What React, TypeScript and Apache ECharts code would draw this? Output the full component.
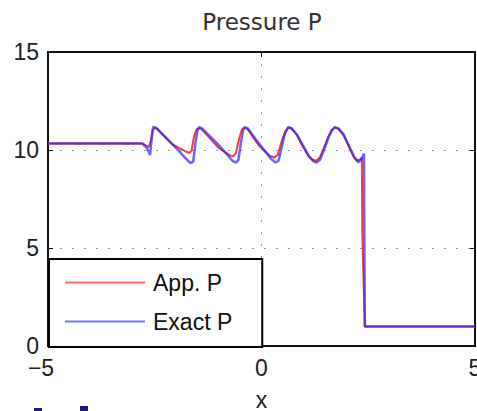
import React, { useEffect, useRef } from 'react';
import * as echarts from 'echarts';

const titleText = 'Pressure P';
const xName = 'x';
const seriesNames = ['App. P', 'Exact P'];
const xTicks = [-5, 0, 5];
const yTicks = [0, 5, 10, 15];

const appX = [-5, -2.78, -2.7, -2.64, -2.59, -2.55, -2.5, -2.44, -2.1, -1.8, -1.7, -1.64, -1.58, -1.52, -1.46, -1.4, -1.0, -0.72, -0.66, -0.6, -0.52, -0.46, -0.4, -0.32, -0.05, 0.2, 0.3, 0.38, 0.48, 0.56, 0.62, 0.7, 0.82, 0.96, 1.1, 1.2, 1.28, 1.36, 1.46, 1.56, 1.64, 1.71, 1.79, 1.91, 2.04, 2.16, 2.24, 2.3, 2.35, 2.36, 2.42, 5];
const appP = [10.33, 10.33, 10.22, 10.15, 10.5, 11.0, 11.12, 11.08, 10.3, 9.95, 9.85, 9.95, 10.7, 11.05, 11.12, 11.05, 10.1, 9.7, 9.68, 9.85, 10.6, 11.05, 11.15, 11.05, 10.2, 9.7, 9.62, 9.75, 10.5, 10.95, 11.15, 11.1, 10.8, 10.2, 9.7, 9.5, 9.45, 9.6, 10.1, 10.65, 11.0, 11.15, 11.1, 10.8, 10.2, 9.65, 9.45, 9.5, 9.6, 5.8, 1.0, 1.0];

const exactX = [-5, -2.8, -2.7, -2.64, -2.61, -2.58, -2.54, -2.48, -2.06, -1.72, -1.66, -1.6, -1.55, -1.5, -1.46, -1.4, -1.0, -0.68, -0.6, -0.54, -0.48, -0.43, -0.39, -0.32, -0.05, 0.22, 0.33, 0.4, 0.47, 0.55, 0.63, 0.71, 0.84, 0.98, 1.12, 1.22, 1.29, 1.37, 1.47, 1.57, 1.65, 1.72, 1.8, 1.92, 2.05, 2.18, 2.27, 2.33, 2.4, 2.42, 5];
const exactP = [10.33, 10.33, 10.15, 9.9, 9.74, 10.4, 11.17, 11.15, 10.25, 9.45, 9.34, 9.4, 10.3, 11.0, 11.17, 11.12, 10.25, 9.45, 9.36, 9.5, 10.4, 11.0, 11.17, 11.1, 10.3, 9.55, 9.36, 9.45, 10.1, 10.85, 11.17, 11.1, 10.75, 10.2, 9.65, 9.42, 9.36, 9.5, 10.05, 10.65, 11.0, 11.17, 11.1, 10.8, 10.2, 9.6, 9.38, 9.5, 9.82, 1.0, 1.0];

const FONT = '"Liberation Sans", Arial, sans-serif';

export default function App() {
  const ref = useRef<HTMLDivElement>(null);
  useEffect(() => {
    const chart = echarts.init(ref.current as HTMLDivElement, null, { renderer: 'svg' });
    const zip = (xs: number[], ys: number[]) => xs.map((x, i) => [x, ys[i]]);
    const tickStyle = { show: true, inside: true, length: 5, lineStyle: { color: '#111', width: 1 } };
    const axisLineStyle = { show: true, lineStyle: { color: '#111', width: 2 } };
    const gridLine = { show: true, lineStyle: { color: '#999', type: [2, 10], width: 1 } };
    chart.setOption({
      animation: false,
      backgroundColor: '#fff',
      grid: { left: 48, right: 2, top: 52, bottom: 65, show: true, borderColor: '#111', borderWidth: 2, containLabel: false, outerBoundsMode: 'none' },
      xAxis: [
        {
          type: 'value', min: xTicks[0], max: xTicks[xTicks.length - 1], interval: xTicks[1] - xTicks[0],
          position: 'bottom', name: xName, nameLocation: 'middle', nameGap: 42,
          nameTextStyle: { fontSize: 23, color: '#222', fontFamily: FONT },
          axisLine: { ...axisLineStyle, onZero: false }, axisTick: tickStyle,
          axisLabel: {
            margin: 10, fontSize: 23, color: '#222', fontFamily: FONT,
            formatter: (v: number) => (v < 0 ? `{neg|\u2212${Math.abs(v)}}` : String(v)),
            rich: { neg: { fontSize: 23, color: '#222', fontFamily: FONT, padding: [0, 14, 0, 0] } },
          },
          splitLine: gridLine,
        },
        {
          type: 'value', min: xTicks[0], max: xTicks[xTicks.length - 1], interval: xTicks[1] - xTicks[0],
          position: 'top', axisLine: { ...axisLineStyle, onZero: false }, axisTick: tickStyle,
          axisLabel: { show: false }, splitLine: { show: false },
        },
      ],
      yAxis: [
        {
          type: 'value', min: yTicks[0], max: yTicks[yTicks.length - 1], interval: yTicks[1] - yTicks[0],
          position: 'left',
          axisLine: { ...axisLineStyle, onZero: false }, axisTick: tickStyle,
          axisLabel: { margin: 9, fontSize: 23, color: '#222', fontFamily: FONT },
          splitLine: gridLine,
        },
        {
          type: 'value', min: yTicks[0], max: yTicks[yTicks.length - 1], interval: yTicks[1] - yTicks[0],
          position: 'right',
          axisLine: { ...axisLineStyle, onZero: false }, axisTick: tickStyle,
          axisLabel: { show: false }, splitLine: { show: false },
        },
      ],
      legend: {
        show: true, orient: 'vertical', left: 49, top: 259,
        padding: [12, 30, 14, 16], itemGap: 16, itemWidth: 80, itemHeight: 2, icon: 'rect',
        borderColor: '#000', borderWidth: 2, backgroundColor: '#fff',
        textStyle: { fontSize: 23, color: '#111', fontFamily: FONT, padding: [0, 0, 0, 3] },
        data: [
          { name: seriesNames[0], itemStyle: { color: '#ff7070' } },
          { name: seriesNames[1], itemStyle: { color: '#7474ff' } },
        ],
      },
      series: [
        {
          name: seriesNames[0], type: 'line', data: zip(appX, appP), symbol: 'none', z: 3,
          itemStyle: { color: '#ff3a3a' }, lineStyle: { color: '#ff3a3a', width: 2 },
        },
        {
          name: seriesNames[1], type: 'line', data: zip(exactX, exactP), symbol: 'none', z: 4,
          itemStyle: { color: '#2a2aff' }, lineStyle: { color: 'rgba(40,40,255,0.7)', width: 2.5 },
        },
      ],
      graphic: [
        {
          type: 'text', x: 262, y: 22,
          style: { text: titleText, fill: '#333', font: '23px "DejaVu Sans", sans-serif', textAlign: 'center', textVerticalAlign: 'middle' },
        },
        { type: 'rect', shape: { x: 34, y: 408, width: 8, height: 3 }, style: { fill: '#1c1c7a' } },
        { type: 'rect', shape: { x: 80, y: 406, width: 8, height: 5 }, style: { fill: '#1c1c7a' } },
      ],
    });
    return () => chart.dispose();
  }, []);
  return <div ref={ref} style={{ position: 'fixed', left: 0, top: 0, width: 477, height: 411, background: '#fff' }} />;
}
